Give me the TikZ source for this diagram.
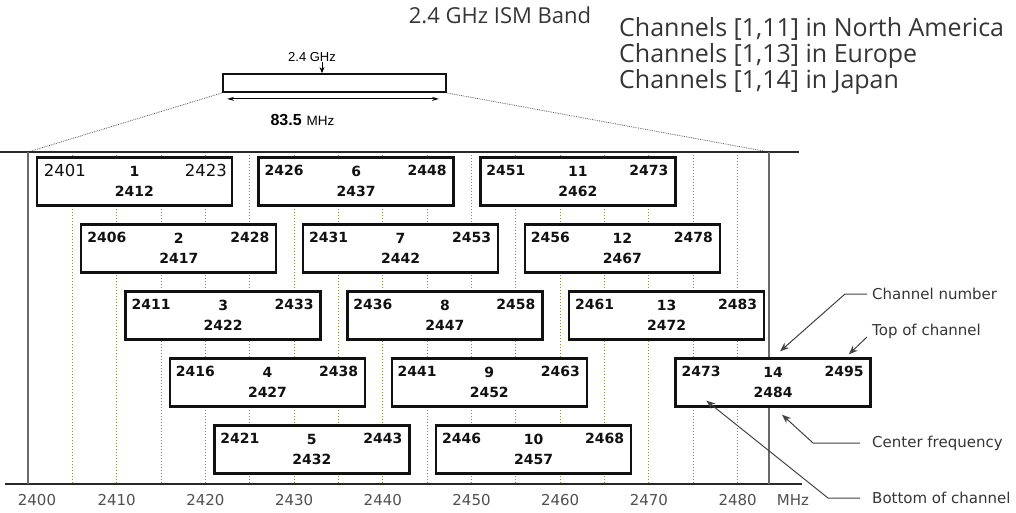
\documentclass[tikz,border=0pt]{standalone}
\usepackage{fontspec}
\setmainfont{DejaVu Sans}
\newfontfamily\titlefont{Open Sans}
\newfontfamily\arialfont{Liberation Sans}
\usepackage{tikz}
\usetikzlibrary{arrows.meta,positioning,calc}
\definecolor{gridOlive}{HTML}{8C8C3C}
\definecolor{ink}{HTML}{111111}
\definecolor{axisGray}{HTML}{505050}
\definecolor{frameGray}{HTML}{6A6A6A}

\begin{document}
\begin{tikzpicture}[x=1pt,y=-1pt,
  chbox/.style={draw=ink,line width=2.4pt,fill=white,minimum width=195pt,minimum height=48pt,inner sep=0pt},
  fq/.style={font=\fontsize{14}{15}\selectfont\bfseries,color=ink,inner sep=0pt},
  fqthin/.style={font=\fontsize{16.5}{17}\selectfont,color=ink,inner sep=0pt},
  axlbl/.style={font=\fontsize{15}{16}\selectfont,color=axisGray,inner sep=0pt},
  note/.style={font=\fontsize{15}{16}\selectfont,color=ink!85,inner sep=0pt,anchor=west},
  region/.style={font=\titlefont\fontsize{25}{26}\selectfont,color=ink!85,inner sep=0pt,anchor=base west},
  arr/.style={-{Stealth[length=9pt,width=7pt]},line width=1pt,color=ink!80},
  grid/.style={dotted,line width=1pt,color=gridOlive},
  frame/.style={line width=1.4pt,color=ink!90},
  spread/.style={densely dotted,line width=0.8pt,color=ink!70}
]
  \useasboundingbox (0,0) rectangle (1016,512);

  % title and regions
  \node[font=\titlefont\fontsize{22}{26}\selectfont,color=ink!85,inner sep=0pt,anchor=base] (title) at (500,23) {2.4 GHz ISM Band};
  \node[region] (na) at (619,36) {Channels [1,11] in North America};
  \node[region] (eu) at (619,62) {Channels [1,13] in Europe};
  \node[region] (jp) at (619,88) {Channels [1,14] in Japan};

  % the band box at the top
  \node[draw=ink,line width=1.8pt,minimum width=223pt,minimum height=18pt,inner sep=0pt] (band) at (334.5,83) {};
  \node[font=\arialfont\fontsize{13}{14}\selectfont,inner sep=0pt] (ghz) at (312,57) {2.4 GHz};
  \draw[-{Stealth[length=6pt,width=5pt]},line width=0.8pt] ([xshift=10]ghz.south) -- ([xshift=-12.5]band.north);
  \coordinate (spanl) at ([shift={(5,6)}]band.south west);
  \coordinate (spanr) at ([shift={(-8,6)}]band.south east);
  \draw[{Stealth[length=7pt,width=4pt]}-{Stealth[length=7pt,width=4pt]},line width=0.9pt] (spanl) -- (spanr);
  \node[font=\arialfont,inner sep=0pt,below=21pt of band,xshift=-32pt] (width) {{\fontsize{16}{16}\selectfont\bfseries 83.5}\enspace{\fontsize{13.5}{14}\selectfont MHz}};

  % frame and axis
  \coordinate (tl) at (28,152);
  \coordinate (tr) at (769,152);
  \coordinate (bl) at (28,484);
  \coordinate (br) at (769,484);
  \draw[spread] (band.south west) -- (tl);
  \draw[spread] (band.south east) -- (tr);
  \foreach \f in {2405,2410,...,2480} {
    \draw[grid] ({28+(\f-2400)*8.87},152) -- ({28+(\f-2400)*8.87},484);
  }
  \draw[frame] (0,152) -- (799,152);
  \draw[frame] (5,484) -- (802,484);
  \draw[line width=1.6pt,color=frameGray] (tl) -- (bl);
  \draw[line width=1.6pt,color=frameGray] (tr) -- (br);
  \node[axlbl] (ax2400) at (37,500) {2400};
  \foreach \f in {2410,2420,...,2480} {
    \node[axlbl] (ax\f) at ({28+(\f-2400)*8.87},500) {\f};
  }
  \node[axlbl] (axunit) at (793,500) {MHz};

  % channels
  \foreach \n in {1,...,14} {
    \pgfmathtruncatemacro{\lo}{\n==14 ? 2473 : 2401+5*(\n-1)}
    \pgfmathtruncatemacro{\hi}{\lo+22}
    \pgfmathtruncatemacro{\cf}{\lo+11}
    \pgfmathtruncatemacro{\row}{mod(\n-1,5)}
    \node[chbox] (ch\n) at ({28+(\cf-2400)*8.87},{181.5+67*\row}) {};
    \ifnum\n=1
      \node[fqthin,anchor=west] (lo\n) at ([shift={(8,14)}]ch\n.north west) {\lo};
      \node[fqthin,anchor=east] (hi\n) at ([shift={(-6,14)}]ch\n.north east) {\hi};
    \else
      \node[fq,anchor=west] (lo\n) at ([shift={(7,14)}]ch\n.north west) {\lo};
      \node[fq,anchor=east] (hi\n) at ([shift={(-8,14)}]ch\n.north east) {\hi};
    \fi
    \node[fq] (num\n) at ([shift={(0,15)}]ch\n.north) {\n};
    \node[fq] (cf\n) at ([shift={(0,35)}]ch\n.north) {\cf};
  }

  % legend for channel 14
  \node[note] (lnum) at (872,294) {Channel number};
  \node[note] (ltop) at (872,331) {Top of channel};
  \node[note] (lcen) at (872,443) {Center frequency};
  \node[note] (lbot) at (872,498) {Bottom of channel};
  \draw[arr] ([xshift=-5]lnum.west) -- ++(-22,0) -- ([shift={(7,-6)}]ch14.north);
  \draw[arr] ([shift={(-5,6)}]ltop.west) -- ([shift={(-23,-3)}]ch14.north east);
  \draw[arr] ([xshift=-12]lcen.west) -- ++(-47,0) -- ([shift={(9,7)}]ch14.south);
  \draw[arr] ([xshift=-12]lbot.west) -- ++(-32,0) -- ([shift={(32,-7)}]ch14.south west);
\end{tikzpicture}
\end{document}
